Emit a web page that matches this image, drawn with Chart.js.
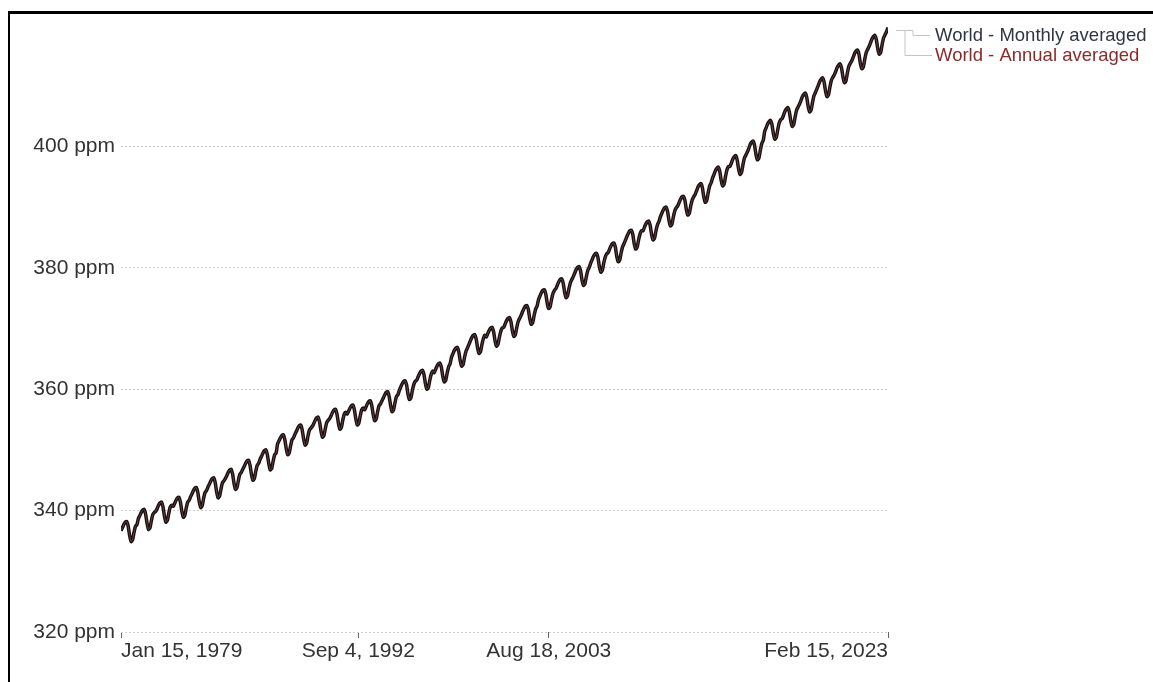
<!DOCTYPE html>
<html>
<head>
<meta charset="utf-8">
<script src="https://cdn.jsdelivr.net/npm/chart.js@4.4.0/dist/chart.umd.min.js"></script>
<style>
    html, body { margin: 0; padding: 0; background: #fff; overflow: hidden; }
    #wrap { position: relative; width: 1153px; height: 682px; }
    #frame {
        position: absolute; left: 8px; top: 11px; width: 1200px; height: 700px;
        border-left: 2px solid #000; border-top: 3px solid #000; pointer-events: none;
    }
    canvas { position: absolute; left: 0; top: 0; }
</style>
</head>
<body>
<div id="wrap">
    <canvas id="co2Chart" width="1153" height="682"></canvas>
    <div id="frame"></div>
</div>
<script>
// years shown, one row of 12 monthly means (ppm) per year
const years = [1979, 1980, 1981, 1982, 1983, 1984, 1985, 1986, 1987, 1988, 1989, 1990, 1991, 1992, 1993,
    1994, 1995, 1996, 1997, 1998, 1999, 2000, 2001, 2002, 2003, 2004, 2005, 2006, 2007, 2008, 2009, 2010,
    2011, 2012, 2013, 2014, 2015, 2016, 2017, 2018, 2019, 2020, 2021, 2022, 2023];

const monthlyPpm = [
    [336.7, 337.2, 337.7, 338.1, 338.2, 337.4, 335.9, 334.9, 335.2, 336.4, 337.4, 337.7],
    [338.7, 339.2, 339.7, 340.1, 340.2, 339.4, 337.9, 336.9, 337.2, 338.4, 339.4, 339.7],
    [339.9, 340.4, 340.9, 341.3, 341.4, 340.6, 339.1, 338.1, 338.4, 339.6, 340.6, 340.9],
    [340.7, 341.2, 341.7, 342.1, 342.2, 341.4, 339.9, 338.9, 339.2, 340.4, 341.4, 341.7],
    [342.3, 342.8, 343.3, 343.7, 343.8, 343.0, 341.5, 340.5, 340.8, 342.0, 343.0, 343.3],
    [343.9, 344.4, 344.9, 345.3, 345.4, 344.6, 343.1, 342.1, 342.4, 343.6, 344.6, 344.9],
    [345.3, 345.8, 346.3, 346.7, 346.8, 346.0, 344.5, 343.5, 343.8, 345.0, 346.0, 346.3],
    [346.8, 347.3, 347.8, 348.2, 348.3, 347.5, 346.0, 345.0, 345.3, 346.5, 347.5, 347.8],
    [348.5, 349.0, 349.5, 349.9, 350.0, 349.2, 347.7, 346.7, 347.0, 348.2, 349.2, 349.5],
    [351.0, 351.5, 352.0, 352.4, 352.5, 351.7, 350.2, 349.2, 349.5, 350.7, 351.7, 352.0],
    [352.6, 353.1, 353.6, 354.0, 354.1, 353.3, 351.8, 350.8, 351.1, 352.3, 353.3, 353.6],
    [353.9, 354.4, 354.9, 355.3, 355.4, 354.6, 353.1, 352.1, 352.4, 353.6, 354.6, 354.9],
    [355.2, 355.7, 356.2, 356.6, 356.7, 355.9, 354.4, 353.4, 353.7, 354.9, 355.9, 356.2],
    [355.9, 356.4, 356.9, 357.3, 357.4, 356.6, 355.1, 354.1, 354.4, 355.6, 356.6, 356.9],
    [356.6, 357.1, 357.6, 358.0, 358.1, 357.3, 355.8, 354.8, 355.1, 356.3, 357.3, 357.6],
    [358.1, 358.6, 359.1, 359.5, 359.6, 358.8, 357.3, 356.3, 356.6, 357.8, 358.8, 359.1],
    [359.8, 360.4, 360.9, 361.3, 361.4, 360.7, 359.2, 358.3, 358.6, 359.8, 360.8, 361.3],
    [361.5, 362.1, 362.6, 363.0, 363.1, 362.4, 360.9, 360.0, 360.3, 361.5, 362.5, 363.0],
    [362.7, 363.3, 363.8, 364.2, 364.3, 363.6, 362.1, 361.2, 361.5, 362.7, 363.7, 364.2],
    [365.3, 365.9, 366.4, 366.8, 366.9, 366.2, 364.7, 363.8, 364.1, 365.3, 366.3, 366.8],
    [367.4, 368.0, 368.5, 368.9, 369.0, 368.3, 366.8, 365.9, 366.2, 367.4, 368.4, 368.9],
    [368.6, 369.2, 369.7, 370.1, 370.2, 369.5, 368.0, 367.1, 367.4, 368.6, 369.6, 370.1],
    [370.2, 370.8, 371.3, 371.7, 371.8, 371.1, 369.6, 368.7, 369.0, 370.2, 371.2, 371.7],
    [372.2, 372.8, 373.3, 373.7, 373.8, 373.1, 371.6, 370.7, 371.0, 372.2, 373.2, 373.7],
    [374.8, 375.4, 375.9, 376.3, 376.4, 375.7, 374.2, 373.3, 373.6, 374.8, 375.8, 376.3],
    [376.6, 377.2, 377.7, 378.1, 378.2, 377.5, 376.0, 375.1, 375.4, 376.6, 377.6, 378.1],
    [378.6, 379.2, 379.7, 380.1, 380.2, 379.5, 378.0, 377.1, 377.4, 378.6, 379.6, 380.1],
    [380.8, 381.4, 381.9, 382.3, 382.4, 381.7, 380.2, 379.3, 379.6, 380.8, 381.8, 382.3],
    [382.5, 383.1, 383.6, 384.0, 384.1, 383.4, 381.9, 381.0, 381.3, 382.5, 383.5, 384.0],
    [384.6, 385.2, 385.7, 386.1, 386.2, 385.5, 384.0, 383.1, 383.4, 384.6, 385.6, 386.1],
    [386.1, 386.7, 387.2, 387.6, 387.7, 387.0, 385.5, 384.6, 384.9, 386.1, 387.1, 387.6],
    [388.4, 389.0, 389.5, 389.9, 390.0, 389.3, 387.8, 386.9, 387.2, 388.4, 389.4, 389.9],
    [390.2, 390.8, 391.3, 391.7, 391.8, 391.1, 389.6, 388.7, 389.0, 390.2, 391.2, 391.7],
    [392.1, 392.7, 393.3, 393.7, 393.9, 393.2, 391.7, 390.8, 391.1, 392.4, 393.5, 394.0],
    [394.8, 395.4, 396.0, 396.4, 396.6, 395.9, 394.4, 393.5, 393.8, 395.1, 396.2, 396.7],
    [396.7, 397.3, 397.9, 398.3, 398.5, 397.8, 396.3, 395.4, 395.7, 397.0, 398.1, 398.6],
    [399.1, 399.7, 400.3, 400.7, 400.9, 400.2, 398.7, 397.8, 398.1, 399.4, 400.5, 401.0],
    [402.5, 403.1, 403.7, 404.1, 404.3, 403.6, 402.1, 401.2, 401.5, 402.8, 403.9, 404.4],
    [404.6, 405.2, 405.8, 406.2, 406.4, 405.7, 404.2, 403.3, 403.6, 404.9, 406.0, 406.5],
    [407.0, 407.6, 408.2, 408.6, 408.8, 408.1, 406.6, 405.7, 406.0, 407.3, 408.4, 408.9],
    [409.5, 410.1, 410.7, 411.1, 411.3, 410.6, 409.1, 408.2, 408.5, 409.8, 410.9, 411.4],
    [411.8, 412.4, 413.0, 413.4, 413.6, 412.9, 411.4, 410.5, 410.8, 412.1, 413.2, 413.7],
    [414.1, 414.7, 415.3, 415.7, 415.9, 415.2, 413.7, 412.8, 413.1, 414.4, 415.5, 416.0],
    [416.5, 417.1, 417.7, 418.1, 418.3, 417.6, 416.1, 415.2, 415.5, 416.8, 417.9, 418.4],
    [418.9, 419.6]
];

const seriesNames = ['World - Monthly averaged', 'World - Annual averaged'];
const yTicks = [320, 340, 360, 380, 400];
const xTickDates = [[1979, 0, 15], [1992, 8, 4], [2003, 7, 18], [2023, 1, 15]];
const xTickLabels = ['Jan 15, 1979', 'Sep 4, 1992', 'Aug 18, 2003', 'Feb 15, 2023'];

const FONT = '"Liberation Sans", Arial, sans-serif';

// points on a date axis (ms), mid-month
const points = [];
years.forEach((yr, i) => {
    monthlyPpm[i].forEach((v, m) => points.push({ x: Date.UTC(yr, m, 15), y: v }));
});
const xTickValues = xTickDates.map(d => Date.UTC(d[0], d[1], d[2]));

// labels at the right end of the lines, joined by thin grey leaders
const endLabels = {
    id: 'endLabels',
    afterDraw(chart) {
        const ctx = chart.ctx;
        const meta = chart.getDatasetMeta(0);
        const last = meta.data[meta.data.length - 1];
        const px = last.x, py = last.y;
        ctx.save();
        ctx.strokeStyle = '#c4c4c4';
        ctx.lineWidth = 1;
        ctx.beginPath();
        ctx.moveTo(px + 8, py + 3);
        ctx.lineTo(px + 25, py + 3);
        ctx.lineTo(px + 25, py + 8);
        ctx.lineTo(px + 42, py + 8);
        ctx.moveTo(px + 17, py + 3);
        ctx.lineTo(px + 17, py + 28);
        ctx.lineTo(px + 44, py + 28);
        ctx.stroke();
        ctx.font = '18.5px ' + FONT;
        ctx.textBaseline = 'middle';
        ctx.fillStyle = '#2e3545';
        ctx.fillText(seriesNames[0], px + 47, py + 8);
        ctx.fillStyle = '#8a2a2a';
        ctx.fillText(seriesNames[1], px + 47, py + 28);
        ctx.restore();
    }
};

new Chart(document.getElementById('co2Chart'), {
    type: 'line',
    data: {
        datasets: [{
            label: seriesNames[0],
            data: points,
            borderColor: '#111',
            borderWidth: 3.5,
            pointRadius: 0,
            tension: 0.2,
            order: 1
        }, {
            label: seriesNames[1],
            data: points,
            borderColor: '#7a3a3a',
            borderWidth: 1,
            pointRadius: 0,
            tension: 0.2,
            order: 0
        }]
    },
    options: {
        responsive: false,
        animation: false,
        parsing: false,
        layout: { padding: { top: 19, right: 265, left: 0, bottom: 0 } },
        plugins: {
            legend: { display: false },
            tooltip: { enabled: false }
        },
        scales: {
            x: {
                type: 'linear',
                min: points[0].x,
                max: points[points.length - 1].x,
                afterBuildTicks: scale => { scale.ticks = xTickValues.map(v => ({ value: v })); },
                afterFit: scale => { scale.height = 50; },
                grid: {
                    drawOnChartArea: false,
                    drawTicks: true,
                    tickLength: 6,
                    tickColor: '#666',
                    tickWidth: 1
                },
                border: { display: false },
                ticks: {
                    align: 'inner',
                    maxRotation: 0,
                    autoSkip: false,
                    padding: 1,
                    color: '#333',
                    font: { family: FONT, size: 21 },
                    callback: (v, i) => xTickLabels[i]
                }
            },
            y: {
                min: 320,
                max: 421,
                afterBuildTicks: scale => { scale.ticks = yTicks.map(v => ({ value: v })); },
                afterFit: scale => { scale.width = 121; },
                grid: { color: '#cfcfcf', lineWidth: 1, drawTicks: false },
                border: { display: false, dash: [2, 2] },
                ticks: {
                    padding: 6,
                    color: '#333',
                    font: { family: FONT, size: 21 },
                    callback: v => v + ' ppm'
                }
            }
        }
    },
    plugins: [endLabels]
});
</script>
</body>
</html>
